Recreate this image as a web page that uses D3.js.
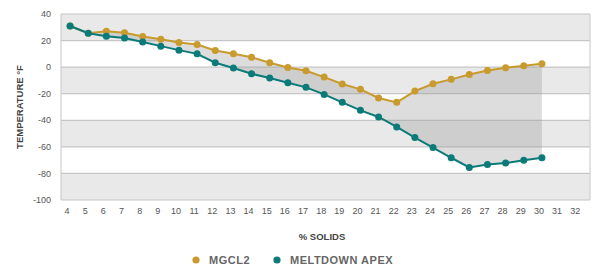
<!DOCTYPE html>
<html>
<head>
<meta charset="utf-8">
<script src="https://cdn.jsdelivr.net/npm/d3@7"></script>
<style>
    body { margin: 0; background: #fff; }
    svg { display: block; font-family: "Liberation Sans", Arial, sans-serif; }
</style>
</head>
<body>
<svg id="chart" width="594" height="267"></svg>
<script>
// Freezing point vs % solids - two brine products

const solids = [4, 5, 6, 7, 8, 9, 10, 11, 12, 13, 14, 15, 16, 17, 18, 19, 20, 21, 22, 23, 24, 25, 26, 27, 28, 29, 30];
const mgcl2 = [31, 25.5, 27, 25.8, 23, 21, 18.5, 17, 12.5, 10, 7.5, 3.3, -0.2, -2.7, -7.5, -12.7, -16.7, -23.2, -26.5, -18, -12.5, -9.2, -5.6, -2.5, -0.5, 1, 2.5];
const meltdownApex = [31, 25.5, 23.3, 22, 19, 15.8, 12.8, 10, 3.3, -0.7, -5, -8.2, -11.7, -15.2, -20.5, -26.5, -32.5, -37.5, -45, -53, -60.5, -68.2, -75.5, -73.2, -72.2, -70, -68.2];
const xTicks = d3.range(4, 33);
const yTicks = [40, 20, 0, -20, -40, -60, -80, -100];
const seriesNames = ['MGCL2', 'MELTDOWN APEX'];
const seriesColors = ['#c99a2e', '#0b7b79'];

const svg = d3.select('#chart');

const plot = { left: 61, right: 590, top: 14, bottom: 200 };

const x = d3.scaleLinear()
    .domain([3.5, 32.65])
    .range([plot.left, plot.right]);

const y = d3.scaleLinear()
    .domain([-100, 40])
    .range([plot.bottom, plot.top]);

// Alternating bands (gray every other 20 degrees)
const bands = d3.range(0, yTicks.length - 1).filter(i => i % 2 === 0);
svg.selectAll('.band')
    .data(bands)
    .enter()
    .append('rect')
    .attr('class', 'band')
    .attr('x', plot.left)
    .attr('width', plot.right - plot.left)
    .attr('y', i => y(yTicks[i]))
    .attr('height', i => y(yTicks[i + 1]) - y(yTicks[i]))
    .style('fill', '#e9e9e9');

// Horizontal grid lines
svg.selectAll('.grid-line')
    .data(yTicks)
    .enter()
    .append('line')
    .attr('class', 'grid-line')
    .attr('x1', plot.left)
    .attr('x2', plot.right)
    .attr('y1', d => y(d))
    .attr('y2', d => y(d))
    .style('stroke', '#c6c6c6')
    .style('stroke-width', 1.2);

// Left / right frame
[plot.left, plot.right].forEach(px => {
    svg.append('line')
        .attr('x1', px).attr('x2', px)
        .attr('y1', plot.top).attr('y2', plot.bottom)
        .style('stroke', '#cfcfcf')
        .style('stroke-width', 1.2);
});

// Shaded gap between the two curves
const rows = solids.map((s, i) => ({ s, a: mgcl2[i], b: meltdownApex[i] }));

const gap = d3.area()
    .x(d => x(d.s))
    .y0(d => y(d.b))
    .y1(d => y(d.a));

svg.append('path')
    .datum(rows)
    .attr('d', gap)
    .style('fill', '#999999')
    .style('fill-opacity', 0.33);

// Lines + dots
const series = [mgcl2, meltdownApex];
series.forEach((values, k) => {
    const pts = solids.map((s, i) => ({ s, v: values[i] }));
    const line = d3.line()
        .x(d => x(d.s))
        .y(d => y(d.v));

    svg.append('path')
        .datum(pts)
        .attr('d', line)
        .style('fill', 'none')
        .style('stroke', seriesColors[k])
        .style('stroke-width', 2);

    svg.selectAll('.dot-' + k)
        .data(pts)
        .enter()
        .append('circle')
        .attr('class', 'dot-' + k)
        .attr('cx', d => x(d.s))
        .attr('cy', d => y(d.v))
        .attr('r', 3.5)
        .style('fill', seriesColors[k]);
});

// Y tick labels
svg.selectAll('.y-label')
    .data(yTicks)
    .enter()
    .append('text')
    .attr('class', 'y-label')
    .attr('x', 51)
    .attr('y', d => y(d))
    .attr('dy', '0.35em')
    .style('text-anchor', 'end')
    .style('font-size', '9px')
    .style('fill', '#555')
    .text(d => d);

// X tick labels
svg.selectAll('.x-label')
    .data(xTicks)
    .enter()
    .append('text')
    .attr('class', 'x-label')
    .attr('x', d => x(d) - 3)
    .attr('y', 214)
    .style('text-anchor', 'middle')
    .style('font-size', '9px')
    .style('fill', '#555')
    .text(d => d);

// Axis titles
svg.append('text')
    .attr('transform', `translate(23, ${(plot.top + plot.bottom) / 2}) rotate(-90)`)
    .style('text-anchor', 'middle')
    .style('font-size', '9.5px')
    .style('font-weight', 'bold')
    .style('fill', '#444')
    .text('TEMPERATURE °F');

svg.append('text')
    .attr('x', 322)
    .attr('y', 240)
    .style('text-anchor', 'middle')
    .style('font-size', '9.5px')
    .style('font-weight', 'bold')
    .style('fill', '#444')
    .text('% SOLIDS');

// Legend
const legendX = [196, 277];
const legend = svg.selectAll('.legend-item')
    .data(seriesNames)
    .enter()
    .append('g')
    .attr('class', 'legend-item')
    .attr('transform', (d, i) => `translate(${legendX[i]}, 260)`);

legend.append('circle')
    .attr('r', 3.6)
    .style('fill', (d, i) => seriesColors[i]);

legend.append('text')
    .attr('x', 13)
    .attr('dy', '0.36em')
    .style('font-size', '11px')
    .style('font-weight', 'bold')
    .style('letter-spacing', '0.5px')
    .style('fill', '#666')
    .text(d => d);
</script>
</body>
</html>
